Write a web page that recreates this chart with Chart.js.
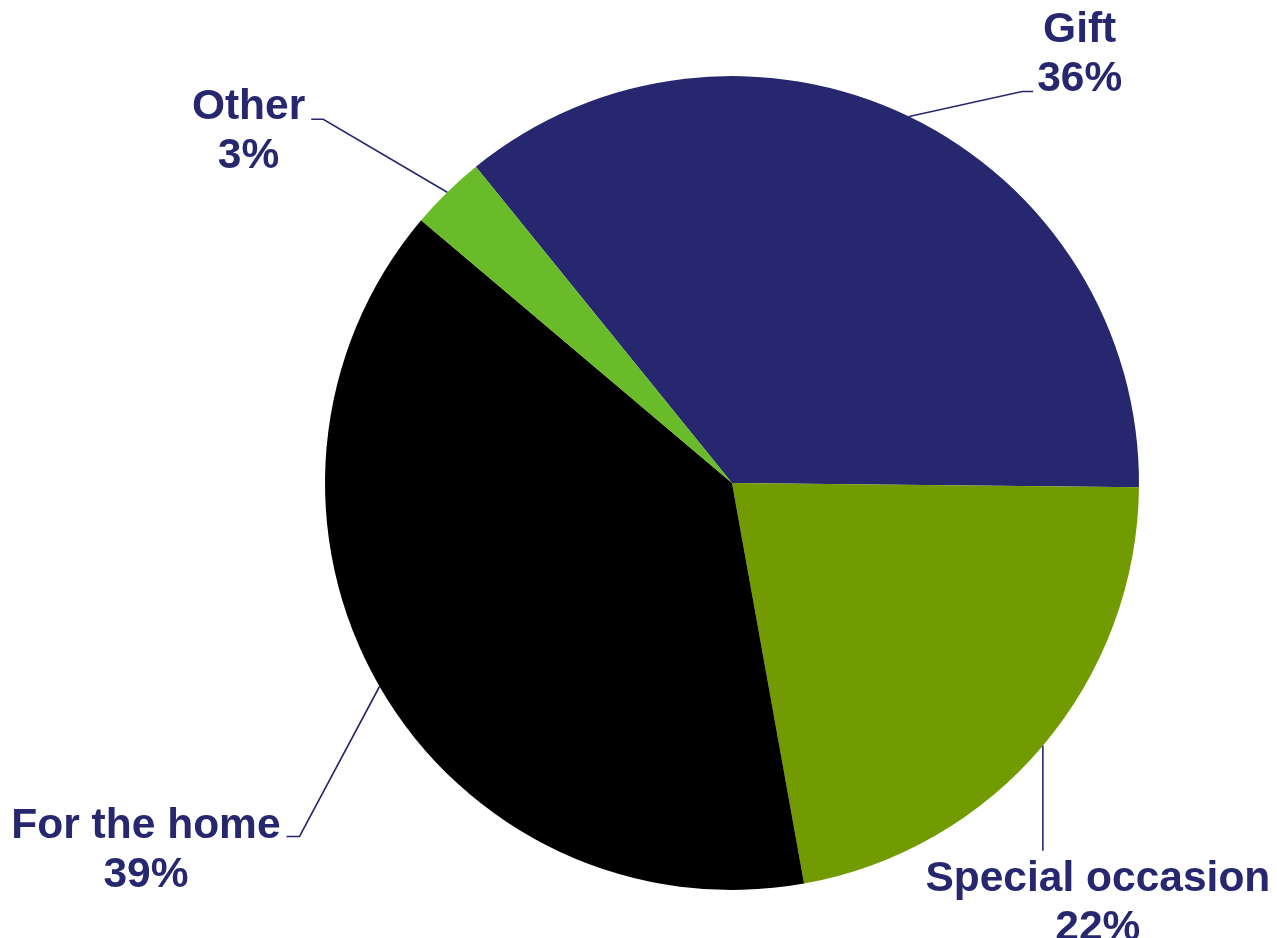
<!DOCTYPE html>
<html>
<head>
<meta charset="utf-8">
<style>
  html, body { margin: 0; padding: 0; background: #fff; }
  #wrap { width: 1277px; height: 938px; position: relative; }
</style>
<script src="https://cdn.jsdelivr.net/npm/chart.js@4.4.0/dist/chart.umd.min.js"></script>
</head>
<body>
<div id="wrap"><canvas id="myChart"></canvas></div>
<script>
const categories = ['Gift', 'Special occasion', 'For the home', 'Other'];
const shares = [36, 22, 39, 3];
const sliceColors = ['#27276f', '#719b00', '#000000', '#6abb2a'];

const navy = '#27276f';
const labelFont = 'bold 42.5px "Liberation Sans", Arial, sans-serif';
const lineHeight = 49;

// leader line layout for each label: elbow offset from the slice edge,
// tail length, and where the text block sits relative to the line end
const leaders = [
  { dx: 113, dy: -25, tail: 11, side: 'right', firstBaseline: -50 },
  { dx: 0, dy: 105, tail: 0, side: 'below', shiftX: 55 },
  { dx: -80, dy: 150, tail: -13, side: 'left', firstBaseline: 1 },
  { dx: -124, dy: -73, tail: -12, side: 'left', firstBaseline: 0 }
];

const pieLabels = {
  id: 'pieLabels',
  afterDatasetsDraw(chart) {
    const ctx = chart.ctx;
    const arcs = chart.getDatasetMeta(0).data;
    ctx.save();
    ctx.font = labelFont;
    ctx.strokeStyle = navy;
    ctx.fillStyle = navy;
    ctx.lineWidth = 1.6;
    arcs.forEach((arc, i) => {
      const mid = (arc.startAngle + arc.endAngle) / 2;
      const ex = arc.x + Math.cos(mid) * arc.outerRadius;
      const ey = arc.y + Math.sin(mid) * arc.outerRadius;
      const L = leaders[i];
      const bx = ex + L.dx, by = ey + L.dy;
      const tx = bx + L.tail;
      ctx.beginPath();
      ctx.moveTo(ex, ey);
      ctx.lineTo(bx, by);
      ctx.lineTo(tx, by);
      ctx.stroke();

      const lines = [categories[i], shares[i] + '%'];
      const w = Math.max(...lines.map(t => ctx.measureText(t).width));
      let cx, y0;
      if (L.side === 'right') {
        cx = tx + 4 + w / 2;
        y0 = by + L.firstBaseline;
      } else if (L.side === 'left') {
        cx = tx - 6 - w / 2;
        y0 = by + L.firstBaseline;
      } else {
        cx = bx + L.shiftX;
        y0 = by + 40;
      }
      ctx.textAlign = 'center';
      ctx.textBaseline = 'alphabetic';
      lines.forEach((t, k) => ctx.fillText(t, cx, y0 + k * lineHeight));
    });
    ctx.restore();
  }
};

const ctx = document.getElementById('myChart').getContext('2d');

new Chart(ctx, {
  type: 'pie',
  data: {
    labels: categories,
    datasets: [{
      data: shares,
      backgroundColor: sliceColors,
      borderWidth: 0
    }]
  },
  options: {
    responsive: true,
    maintainAspectRatio: false,
    animation: false,
    rotation: -39,
    layout: {
      padding: { left: 325, right: 138, top: 76, bottom: 48 }
    },
    plugins: {
      legend: { display: false },
      tooltip: { enabled: false }
    }
  },
  plugins: [pieLabels]
});
</script>
</body>
</html>
